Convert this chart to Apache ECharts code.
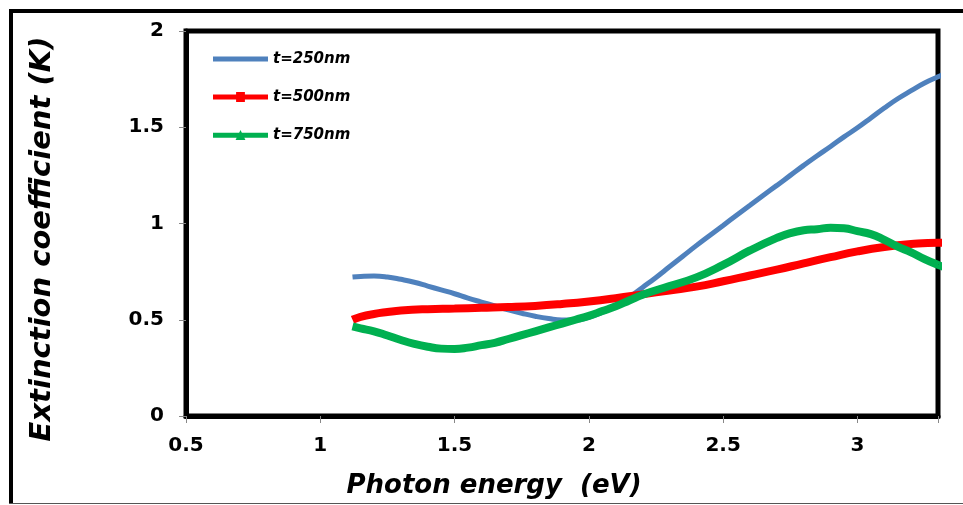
<!DOCTYPE html>
<html>
<head>
<meta charset="utf-8">
<script src="https://cdn.jsdelivr.net/npm/echarts@6/dist/echarts.min.js"></script>
<style>
html,body{margin:0;padding:0;background:#fff;}
#c{width:963px;height:505px;}
</style>
</head>
<body>
<div id="c"></div>
<script>
// Photon energy (eV) and extinction coefficient K for each film thickness
const energy250 = [1.12,1.15,1.2,1.25,1.3,1.35,1.4,1.45,1.5,1.55,1.6,1.65,1.7,1.75,1.8,1.85,1.9,1.95,2.0,2.05,2.1,2.15,2.2,2.25,2.3,2.35,2.4,2.45,2.5,2.55,2.6,2.65,2.7,2.75,2.8,2.85,2.9,2.95,3.0,3.05,3.1,3.15,3.2,3.25,3.3,3.32];
const k250 = [0.722,0.725,0.727,0.722,0.71,0.695,0.675,0.655,0.635,0.612,0.592,0.572,0.552,0.534,0.518,0.506,0.499,0.499,0.513,0.538,0.572,0.617,0.668,0.72,0.775,0.83,0.885,0.938,0.99,1.043,1.095,1.147,1.198,1.25,1.302,1.352,1.40,1.45,1.497,1.548,1.60,1.648,1.69,1.73,1.762,1.775];

const energy500 = [1.12,1.15,1.2,1.25,1.3,1.4,1.5,1.6,1.7,1.8,1.9,2.0,2.1,2.2,2.3,2.4,2.5,2.6,2.7,2.8,2.9,3.0,3.1,3.2,3.3,3.32];
const k500 = [0.50,0.515,0.53,0.54,0.548,0.555,0.558,0.562,0.566,0.572,0.582,0.595,0.612,0.632,0.652,0.672,0.70,0.73,0.76,0.793,0.825,0.855,0.878,0.893,0.90,0.90];

const energy750 = [1.12,1.15,1.2,1.25,1.3,1.35,1.4,1.45,1.5,1.55,1.6,1.65,1.7,1.75,1.8,1.85,1.9,1.95,2.0,2.05,2.1,2.15,2.2,2.3,2.4,2.5,2.6,2.7,2.75,2.8,2.85,2.9,2.95,3.0,3.05,3.1,3.15,3.2,3.25,3.3,3.32];
const k750 = [0.465,0.455,0.44,0.418,0.395,0.375,0.36,0.35,0.348,0.355,0.368,0.38,0.40,0.42,0.44,0.46,0.48,0.50,0.52,0.545,0.57,0.60,0.63,0.675,0.72,0.785,0.86,0.925,0.95,0.965,0.97,0.978,0.975,0.96,0.945,0.915,0.88,0.85,0.815,0.785,0.775];

const seriesNames = ['t=250nm','t=500nm','t=750nm'];
const xTicks = [0.5,1,1.5,2,2.5,3];
const yTicks = [0,0.5,1,1.5,2];

const FONT = 'DejaVu Sans';
const zip = (xs, ys) => xs.map((x, i) => [x, ys[i]]);

const chart = echarts.init(document.getElementById('c'), null, {renderer:'canvas'});
chart.setOption({
  animation: false,
  backgroundColor: '#fff',
  grid: {left:186, top:31, right:25, bottom:89, show:true, borderColor:'#000', borderWidth:5, backgroundColor:'transparent'},
  xAxis: {
    type:'value', min:0.5, max:3.3, interval:0.5,
    axisLine:{show:true, onZero:false, lineStyle:{color:'#000', width:5}},
    axisTick:{show:true, length:7, lineStyle:{color:'#888', width:1}},
    splitLine:{show:false},
    axisLabel:{margin:20, color:'#000', fontFamily:FONT, fontWeight:'bold', fontSize:20,
      formatter: v => xTicks.some(t => Math.abs(t - v) < 1e-6) ? String(v) : ''}
  },
  yAxis: {
    type:'value', min:0, max:2, interval:0.5,
    axisLine:{show:true, lineStyle:{color:'#000', width:5}},
    axisTick:{show:true, length:7, lineStyle:{color:'#888', width:1}},
    splitLine:{show:false},
    axisLabel:{margin:22, color:'#000', fontFamily:FONT, fontWeight:'bold', fontSize:20,
      formatter: v => yTicks.some(t => Math.abs(t - v) < 1e-6) ? String(v) : ''}
  },
  legend: {
    left:213, top:50, padding:0, orient:'vertical', itemGap:20, itemWidth:55, itemHeight:12,
    textStyle:{fontFamily:FONT, fontWeight:'bold', fontStyle:'italic', fontSize:15, color:'#000', lineHeight:18},
    data: [
      {name:seriesNames[0], icon:'path://M0,0h100v9h-100z'},
      {name:seriesNames[1], icon:'path://M0,4.5h100v9h-100z M42,0h16v18h-16z'},
      {name:seriesNames[2], icon:'path://M0,5h100v9h-100z M50,0L59,18H41z'}
    ]
  },
  series: [
    {name:seriesNames[0], type:'line', smooth:true, symbol:'none', data:zip(energy250,k250),
     lineStyle:{color:'#4f81bd', width:5}, itemStyle:{color:'#4f81bd'}},
    {name:seriesNames[1], type:'line', smooth:true, symbol:'rect', symbolSize:9, showSymbol:false, data:zip(energy500,k500),
     lineStyle:{color:'#ff0000', width:8}, itemStyle:{color:'#ff0000'}},
    {name:seriesNames[2], type:'line', smooth:true, symbol:'triangle', symbolSize:9, showSymbol:false, data:zip(energy750,k750),
     lineStyle:{color:'#00b050', width:8}, itemStyle:{color:'#00b050'}}
  ],
  graphic: [
    {type:'line', shape:{x1:11, y1:11, x2:963, y2:11}, style:{stroke:'#000', lineWidth:4}},
    {type:'line', shape:{x1:11, y1:9, x2:11, y2:503}, style:{stroke:'#000', lineWidth:4}},
    {type:'line', shape:{x1:9, y1:503.5, x2:963, y2:503.5}, style:{stroke:'#555', lineWidth:1}},
    {type:'text', x:42, y:239, rotation:Math.PI/2,
     style:{text:'Extinction coefficient (K)', font:'italic bold 29px "DejaVu Sans"', fill:'#000', textAlign:'center', textVerticalAlign:'middle'}},
    {type:'text', x:494, y:486,
     style:{text:'Photon energy  (eV)', font:'italic bold 26px "DejaVu Sans"', fill:'#000', textAlign:'center', textVerticalAlign:'middle'}}
  ]
});
</script>
</body>
</html>
